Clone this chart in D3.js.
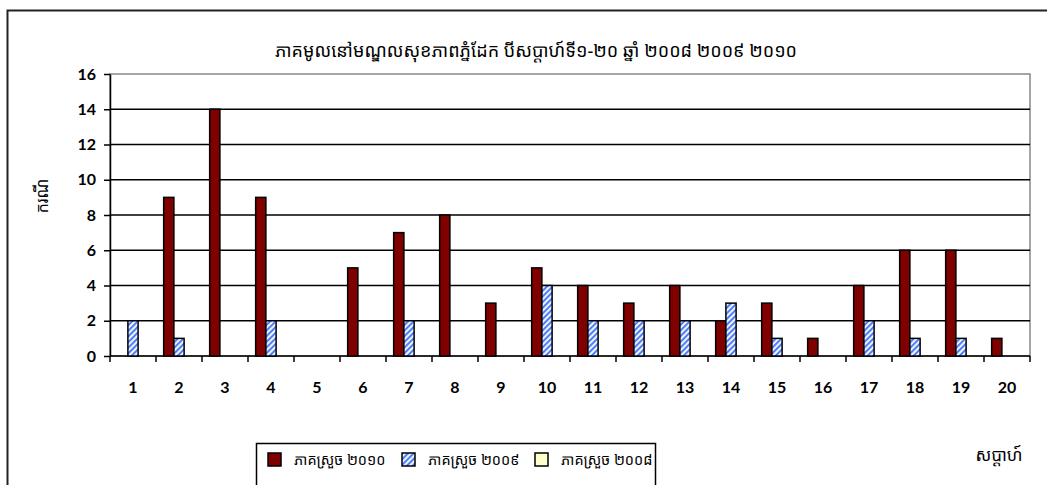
<!DOCTYPE html>
<html>
<head>
<meta charset="utf-8">
<script src="https://cdn.jsdelivr.net/npm/d3@7"></script>
<style>
    body { margin: 0; background: #fff; }
    .khmer { font-family: "Khmer OS", "Noto Sans Khmer", "Noto Serif Khmer", "DaunPenh", sans-serif; }
    .tick text { font-family: "Lato", "Open Sans", sans-serif; font-weight: bold; font-size: 16px; fill: #000; }
</style>
</head>
<body>
<div id="chart"></div>
<script>
// data
const weeks = ["1","2","3","4","5","6","7","8","9","10","11","12","13","14","15","16","17","18","19","20"];
const cases2010 = [0, 9, 14, 9, 0, 5, 7, 8, 3, 5, 4, 3, 4, 2, 3, 1, 4, 6, 6, 1];
const cases2009 = [2, 1, 0, 2, 0, 0, 2, 0, 0, 4, 2, 2, 2, 3, 1, 0, 2, 1, 1, 0];
const cases2008 = [0, 0, 0, 0, 0, 0, 0, 0, 0, 0, 0, 0, 0, 0, 0, 0, 0, 0, 0, 0];
const seriesNames = ["ភាគស្រួច ២០១០", "ភាគស្រួច ២០០៩", "ភាគស្រួច ២០០៨"];
const yTicks = [0, 2, 4, 6, 8, 10, 12, 14, 16];
const title = "ភាគមូលនៅមណ្ឌលសុខភាពភ្នំដែក បីសប្តាហ៍ទី១-២០ ឆ្នាំ ២០០៨ ២០០៩ ២០១០";

render_chart("#chart")

function render_chart(placement) {

    var W = 1047, H = 485;
    var margin = {top: 74, right: 17, bottom: 129, left: 110},
        width = W - margin.left - margin.right,
        height = H - margin.top - margin.bottom;

    const rows = weeks.map((w, i) => ({week: w, values: [cases2010[i], cases2009[i], cases2008[i]]}))

    var xScale = d3.scaleBand()
        .domain(weeks)
        .range([0, width])
        .paddingInner(1 / 3)
        .paddingOuter(1 / 6);

    var xSub = d3.scaleBand()
        .domain([0, 1, 2])
        .range([0, xScale.bandwidth()]);

    var yScale = d3.scaleLinear()
        .domain([0, 16])
        .range([height, 0]);

    var svg0 = d3.select(placement).append("svg")
        .attr("width", W)
        .attr("height", H);

    // hatch pattern for 2009
    const defs = svg0.append("defs");
    const pat = defs.append("pattern")
        .attr("id", "hatch")
        .attr("patternUnits", "userSpaceOnUse")
        .attr("width", 4)
        .attr("height", 4)
        .attr("patternTransform", "rotate(45)");
    pat.append("rect").attr("width", 4).attr("height", 4).attr("fill", "#fff");
    pat.append("rect").attr("width", 2.2).attr("height", 4).attr("fill", "#4f7ff5");

    // chart border
    svg0.append("rect")
        .attr("x", 7.5).attr("y", 10.5)
        .attr("width", W + 20).attr("height", H + 20)
        .attr("fill", "none")
        .attr("stroke", "#222")
        .attr("stroke-width", 2);

    svg0.append("text")
        .attr("class", "khmer")
        .attr("x", 536)
        .attr("y", 57)
        .attr("text-anchor", "middle")
        .style("font-size", "18px")
        .text(title);

    var svg = svg0.append("g")
        .attr("transform", "translate(" + margin.left + "," + margin.top + ")");

    // plot area border
    svg.append("rect")
        .attr("width", width).attr("height", height)
        .attr("fill", "none")
        .attr("stroke", "#888")
        .attr("stroke-width", 1.5);

    // gridlines
    svg.append("g")
        .selectAll("line")
        .data(yTicks.filter(d => d > 0 && d < 16))
        .join("line")
        .attr("x1", 0).attr("x2", width)
        .attr("y1", d => yScale(d)).attr("y2", d => yScale(d))
        .attr("stroke", "#000")
        .attr("stroke-width", 1.5);

    var yAxis = d3.axisLeft(yScale)
        .tickValues(yTicks)
        .tickSize(6)
        .tickPadding(8)
        .tickSizeOuter(0);

    var yg = svg.append("g").call(yAxis);
    yg.selectAll("line, path").attr("stroke", "#000").attr("stroke-width", 1.5);

    // x axis: ticks between categories
    var xg = svg.append("g").attr("transform", "translate(0," + height + ")");
    xg.append("line").attr("x1", 0).attr("x2", width).attr("stroke", "#000").attr("stroke-width", 1.5);
    xg.selectAll("line.tk")
        .data(d3.range(weeks.length + 1))
        .join("line")
        .attr("class", "tk")
        .attr("x1", i => i * xScale.step()).attr("x2", i => i * xScale.step())
        .attr("y1", 0).attr("y2", 6)
        .attr("stroke", "#000").attr("stroke-width", 1.5);
    xg.selectAll("text")
        .data(weeks)
        .join("text")
        .attr("x", d => xScale(d) + xScale.bandwidth() / 2)
        .attr("y", 37)
        .attr("text-anchor", "middle")
        .style("font-family", "Lato, 'Open Sans', sans-serif")
        .style("font-weight", "bold")
        .style("font-size", "16px")
        .text(d => d);

    const fills = ["#800000", "url(#hatch)", "#ffffcc"];

    svg.append("g")
        .selectAll("g")
        .data(rows)
        .join("g")
        .attr("transform", d => "translate(" + xScale(d.week) + ",0)")
        .selectAll("rect")
        .data(d => d.values.map((v, i) => ({i, v})).filter(e => e.v > 0))
        .join("rect")
        .attr("x", d => xSub(d.i))
        .attr("width", xSub.bandwidth())
        .attr("y", d => yScale(d.v))
        .attr("height", d => height - yScale(d.v))
        .attr("fill", d => fills[d.i])
        .attr("stroke", "#000")
        .attr("stroke-width", 1.5);

    // y label
    svg0.append("text")
        .attr("class", "khmer")
        .attr("transform", "translate(48,196) rotate(-90)")
        .attr("text-anchor", "middle")
        .style("font-size", "16px")
        .text("ករណី");

    // x label
    svg0.append("text")
        .attr("class", "khmer")
        .attr("x", 999)
        .attr("y", 461)
        .attr("text-anchor", "middle")
        .style("font-size", "17px")
        .text("សប្តាហ៍");

    // legend
    const lg = svg0.append("g");
    lg.append("rect")
        .attr("x", 256.5).attr("y", 443.5)
        .attr("width", 399).attr("height", 60)
        .attr("fill", "#fff")
        .attr("stroke", "#000")
        .attr("stroke-width", 1.5);
    const lx = [268, 402, 535];
    lg.selectAll("rect.sw")
        .data(seriesNames)
        .join("rect")
        .attr("class", "sw")
        .attr("x", (d, i) => lx[i]).attr("y", 453)
        .attr("width", 13).attr("height", 13)
        .attr("fill", (d, i) => fills[i])
        .attr("stroke", "#000")
        .attr("stroke-width", 1.5);
    lg.selectAll("text")
        .data(seriesNames)
        .join("text")
        .attr("class", "khmer")
        .attr("x", (d, i) => lx[i] + 26).attr("y", 465)
        .style("font-size", "14.5px")
        .text(d => d);
}
</script>
</body>
</html>
